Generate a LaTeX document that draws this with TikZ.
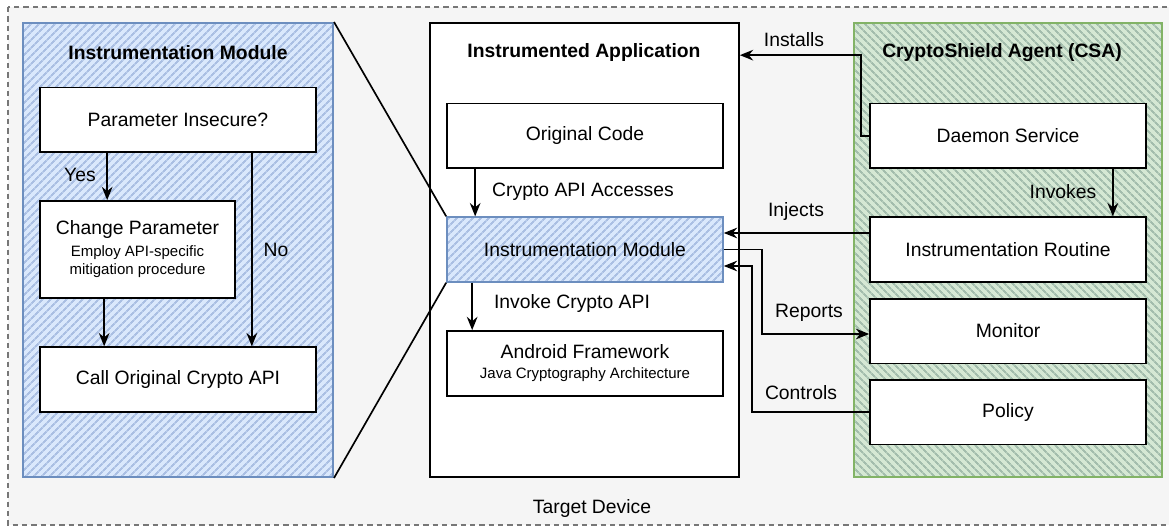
\documentclass[tikz,border=0pt]{standalone}
\usepackage{fontspec}
\setmainfont{Liberation Sans}
\usetikzlibrary{arrows.meta,patterns.meta}
\definecolor{devgray}{HTML}{F5F5F5}
\definecolor{devline}{HTML}{777777}
\definecolor{imfill}{HTML}{DAE8FC}
\definecolor{imhatch}{HTML}{AABFE3}
\definecolor{imline}{HTML}{6C8EBF}
\definecolor{csafill}{HTML}{D5E8D4}
\definecolor{csahatch}{HTML}{A3BDAD}
\definecolor{csaline}{HTML}{82B366}

\begin{document}
\begin{tikzpicture}[x=0.75pt,y=-0.75pt,
  >={Stealth[length=10pt,width=8pt]},
  every path/.style={line width=1.25pt},
  txt/.style={font=\fontsize{14.5}{17}\selectfont},
  title/.style={font=\fontsize{14.5}{17}\selectfont\bfseries},
  box/.style={draw,fill=white,inner sep=0pt,align=center,minimum width=207pt,minimum height=48.5pt,txt},
  panel/.style={draw,inner sep=0pt,minimum height=340.5pt},
  bluehatch/.style={preaction={fill=imfill},pattern={Lines[angle=45,distance=4pt,line width=1.5pt]},pattern color=imhatch,draw=imline},
  greenhatch/.style={preaction={fill=csafill},pattern={Lines[angle=-45,distance=4pt,line width=1.5pt]},pattern color=csahatch,draw=csaline}]
\useasboundingbox (0,0) rectangle (1169,527);
\draw[devline,fill=devgray,line width=0.9pt,dash pattern=on 4pt off 3pt] (8,7) rectangle (1185,525);

% instrumentation module (zoomed in)
\node[panel,bluehatch,minimum width=232.5pt] (imod) at (178,250) {};
\node[title] (imodt) at (178,53) {Instrumentation Module};
\node[box] (insec) at (178,120) {Parameter Insecure?};
\node[box,minimum width=146.25pt,minimum height=72.75pt] (chg) at (137.5,249.5)
  {Change Parameter\\[-1pt]{\fontsize{11.25}{14}\selectfont Employ API-specific}\\[-3pt]{\fontsize{11.25}{14}\selectfont mitigation procedure}};
\node[box] (call) at (178,379.5) {Call Original Crypto API};

\draw[->] ([xshift=51pt]insec.south west) -- ([xshift=51pt]chg.north west);
\draw[->] ([xshift=-48.75pt]insec.south east) -- ([xshift=-48.75pt]call.north east);
\draw[->] ([xshift=48.75pt]chg.south west) -- ([xshift=48.75pt]call.north west);
\node[txt] (yes) at (80,175) {Yes};
\node[txt] (no) at (276,250) {No};

% instrumented application
\node[panel,fill=white,minimum width=231.75pt] (app) at (584.5,250) {};
\node[title] (appt) at (584,53) {Instrumented Application};
\node[box] (orig) at (585,136) {Original Code};
\node[box,bluehatch] (im) at (585,249.5) {Instrumentation Module};
\node[box,minimum height=48.75pt] (fw) at (585,363.5)
  {Android Framework\\[-2pt]{\fontsize{11.25}{14}\selectfont Java Cryptography Architecture}};

\draw[->] ([xshift=21.75pt]orig.south west) -- ([xshift=21.75pt]im.north west);
\draw[->] ([xshift=19.5pt]im.south west) -- ([xshift=19.5pt]fw.north west);
\node[txt] (acc) at (583,192) {Crypto API Accesses};
\node[txt] (inv) at (572,304) {Invoke Crypto API};

\draw (imod.north east) -- (im.north west);
\draw (imod.south east) -- (im.south west);

% cryptoshield agent
\node[panel,greenhatch,minimum width=231pt] (csa) at (1008,250) {};
\node[title] (csat) at (1002,53) {CryptoShield Agent (CSA)};
\node[box] (dmn) at (1008,136) {Daemon Service};
\node[box] (rout) at (1008,249.5) {Instrumentation Routine};
\node[box] (mon) at (1008,331) {Monitor};
\node[box] (pol) at (1008,412) {Policy};

\draw[->] ([xshift=-25.5pt]dmn.south east) -- ([xshift=-25.5pt]rout.north east);
\node[txt] (invk) at (1063,192) {Invokes};

\draw[->] (dmn.west) -- ++(-8,0) |- ([yshift=-24.75pt]app.north east);
\draw[->] ([yshift=12.375pt]rout.west) -- ([yshift=12.375pt]im.east);
\draw[->] (im.east) -- ++(38,0) |- ([yshift=-2.25pt]mon.west);
\draw[->] (pol.west) -- ++(-117,0) |- ([yshift=-12.375pt]im.east);
\node[txt] (inst) at (794,40) {Installs};
\node[txt] (inj) at (796,212) {Injects};
\node[txt] (rep) at (809,313) {Reports};
\node[txt] (ctl) at (801,393) {Controls};

\node[txt] (dev) at (592,508) {Target Device};
\end{tikzpicture}
\end{document}
